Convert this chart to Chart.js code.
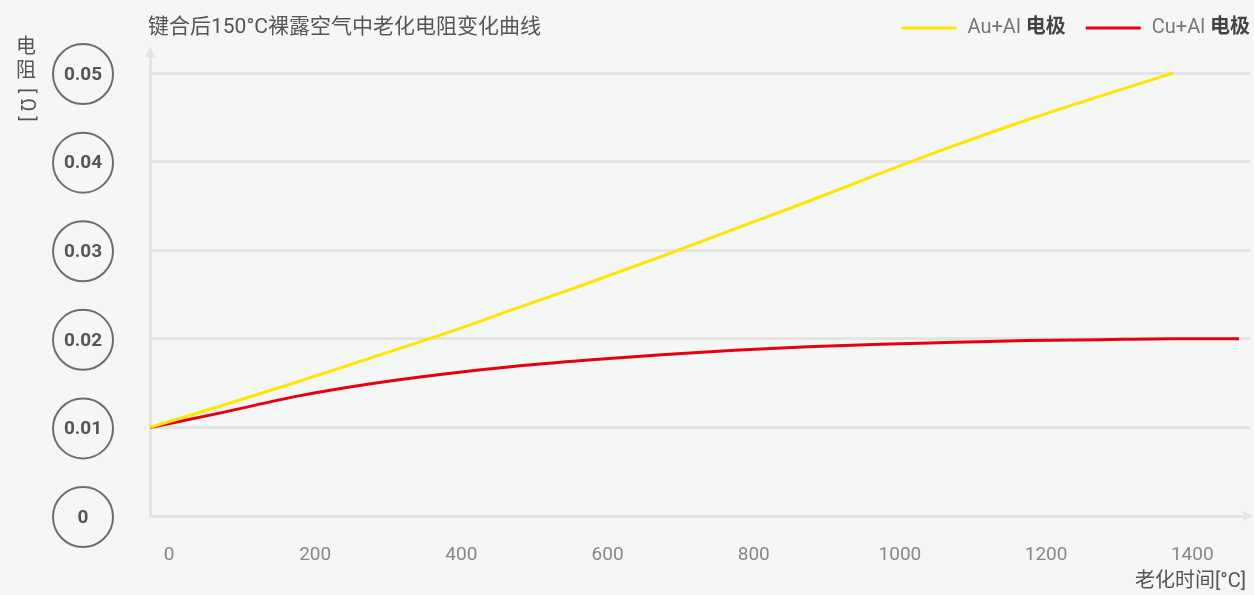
<!DOCTYPE html>
<html>
<head>
<meta charset="utf-8">
<script src="https://cdn.jsdelivr.net/npm/chart.js@4/dist/chart.umd.min.js"></script>
<style>
  html, body { margin: 0; padding: 0; background: #f5f6f6; }
  #wrap { width: 1254px; height: 595px; }
</style>
</head>
<body>
<div id="wrap"><canvas id="agingChart"></canvas></div>
<script>
// aging time (x) and resistance (y, ohm)
var agingTime = [0, 100, 200, 300, 400, 500, 600, 700, 800, 900, 1000, 1100, 1200, 1300, 1400, 1490];
var auAlValues = [0.0100, 0.0125, 0.0151, 0.0178, 0.0205, 0.0234, 0.0263, 0.0293, 0.0324, 0.0355, 0.0387, 0.0418, 0.0447, 0.0474, 0.0500];
var cuAlValues = [0.0100, 0.0117, 0.0135, 0.0149, 0.0160, 0.0169, 0.0176, 0.0182, 0.0187, 0.0191, 0.0194, 0.0196, 0.0198, 0.0199, 0.0200, 0.0200];
var seriesNames = ["Au+Al", "Cu+Al"];
var seriesColors = ["#ffe500", "#e60012"];

var chartTitle = "键合后150°C裸露空气中老化电阻变化曲线";
var xTitle = "老化时间[°C]";
var latin = "Roboto, 'Noto Sans CJK SC', sans-serif";

function toPoints(values) {
    return values.map(function (v, i) { return { x: agingTime[i], y: v }; });
}

var decorations = {
    id: "decorations",
    afterDraw: function (chart) {
        var c = chart.ctx;
        var area = chart.chartArea;
        var yScale = chart.scales.y;
        c.save();

        // axis arrow heads
        c.fillStyle = "#e4e4e4";
        c.beginPath();
        c.moveTo(area.left, area.top - 3);
        c.lineTo(area.left - 5, area.top + 7);
        c.lineTo(area.left + 5, area.top + 7);
        c.closePath();
        c.fill();
        c.beginPath();
        c.moveTo(area.right + 3, area.bottom);
        c.lineTo(area.right - 7, area.bottom - 5);
        c.lineTo(area.right - 7, area.bottom + 5);
        c.closePath();
        c.fill();

        // circled y tick labels
        yScale.ticks.forEach(function (t) {
            var py = yScale.getPixelForValue(t.value) + 1;
            c.beginPath();
            c.arc(83, py, 30, 0, Math.PI * 2);
            c.lineWidth = 2;
            c.strokeStyle = "#6e6e6e";
            c.stroke();
            c.fillStyle = "#555";
            c.font = "bold 19px Roboto";
            c.textAlign = "center";
            c.textBaseline = "middle";
            c.fillText(t.value === 0 ? "0" : t.value.toFixed(2), 83, py + 1);
        });

        // y axis title, vertical
        c.fillStyle = "#555";
        c.font = "20px " + latin;
        c.fillText("电", 26, 48);
        c.fillText("阻", 26, 72);
        c.save();
        c.translate(26, 105);
        c.rotate(Math.PI / 2);
        c.fillText("[ Ω ]", 0, 0);
        c.restore();

        // chart title
        c.textAlign = "left";
        c.font = "21px " + latin;
        c.fillStyle = "#555";
        c.fillText(chartTitle, 148, 28);

        // x axis title
        c.textAlign = "right";
        c.font = "20px " + latin;
        c.fillText(xTitle, 1246, 582);

        // legend, right aligned
        var x = 1250;
        for (var i = seriesNames.length - 1; i >= 0; i--) {
            c.font = "bold 20px " + latin;
            var wBold = c.measureText("电极").width;
            c.font = "20px " + latin;
            var wName = c.measureText(seriesNames[i] + " ").width;
            var textStart = x - wBold - wName;
            c.textAlign = "left";
            c.fillStyle = "#777";
            c.fillText(seriesNames[i] + " ", textStart, 28);
            c.font = "bold 20px " + latin;
            c.fillStyle = "#444";
            c.fillText("电极", textStart + wName, 28);
            c.beginPath();
            c.moveTo(textStart - 66, 28);
            c.lineTo(textStart - 11, 28);
            c.lineWidth = 3;
            c.strokeStyle = seriesColors[i];
            c.stroke();
            x = textStart - 86;
        }
        c.restore();
    }
};

var ctx = document.getElementById("agingChart").getContext("2d");
var agingChart = new Chart(ctx, {
    type: "line",
    data: {
        datasets: [{
            label: seriesNames[0],
            data: toPoints(auAlValues),
            borderColor: seriesColors[0],
            borderWidth: 3,
            pointRadius: 0,
            cubicInterpolationMode: "monotone",
            fill: false
        }, {
            label: seriesNames[1],
            data: toPoints(cuAlValues),
            borderColor: seriesColors[1],
            borderWidth: 3,
            pointRadius: 0,
            cubicInterpolationMode: "monotone",
            fill: false
        }]
    },
    options: {
        responsive: true,
        maintainAspectRatio: false,
        animation: false,
        layout: {
            padding: { top: 50, right: 4, bottom: 0, left: 0 }
        },
        scales: {
            x: {
                type: "linear",
                min: 0,
                max: 1505,
                afterFit: function (s) { s.height = 79; },
                grid: { display: false, drawTicks: false },
                border: { display: true, color: "#e4e4e4", width: 3 },
                ticks: {
                    stepSize: 200,
                    includeBounds: false,
                    padding: 28,
                    labelOffset: 19,
                    color: "#888",
                    font: { family: "Roboto", size: 19 },
                    callback: function (v) { return String(v); }
                }
            },
            y: {
                min: 0,
                max: 0.0526,
                afterFit: function (s) { s.width = 150; },
                grid: { color: "#e4e4e4", lineWidth: 3, drawTicks: false },
                border: { display: true, color: "#e4e4e4", width: 3 },
                ticks: {
                    display: false,
                    stepSize: 0.01,
                    includeBounds: false
                }
            }
        },
        plugins: {
            legend: { display: false },
            title: { display: false },
            tooltip: { enabled: false }
        }
    },
    plugins: [decorations]
});
</script>
</body>
</html>
